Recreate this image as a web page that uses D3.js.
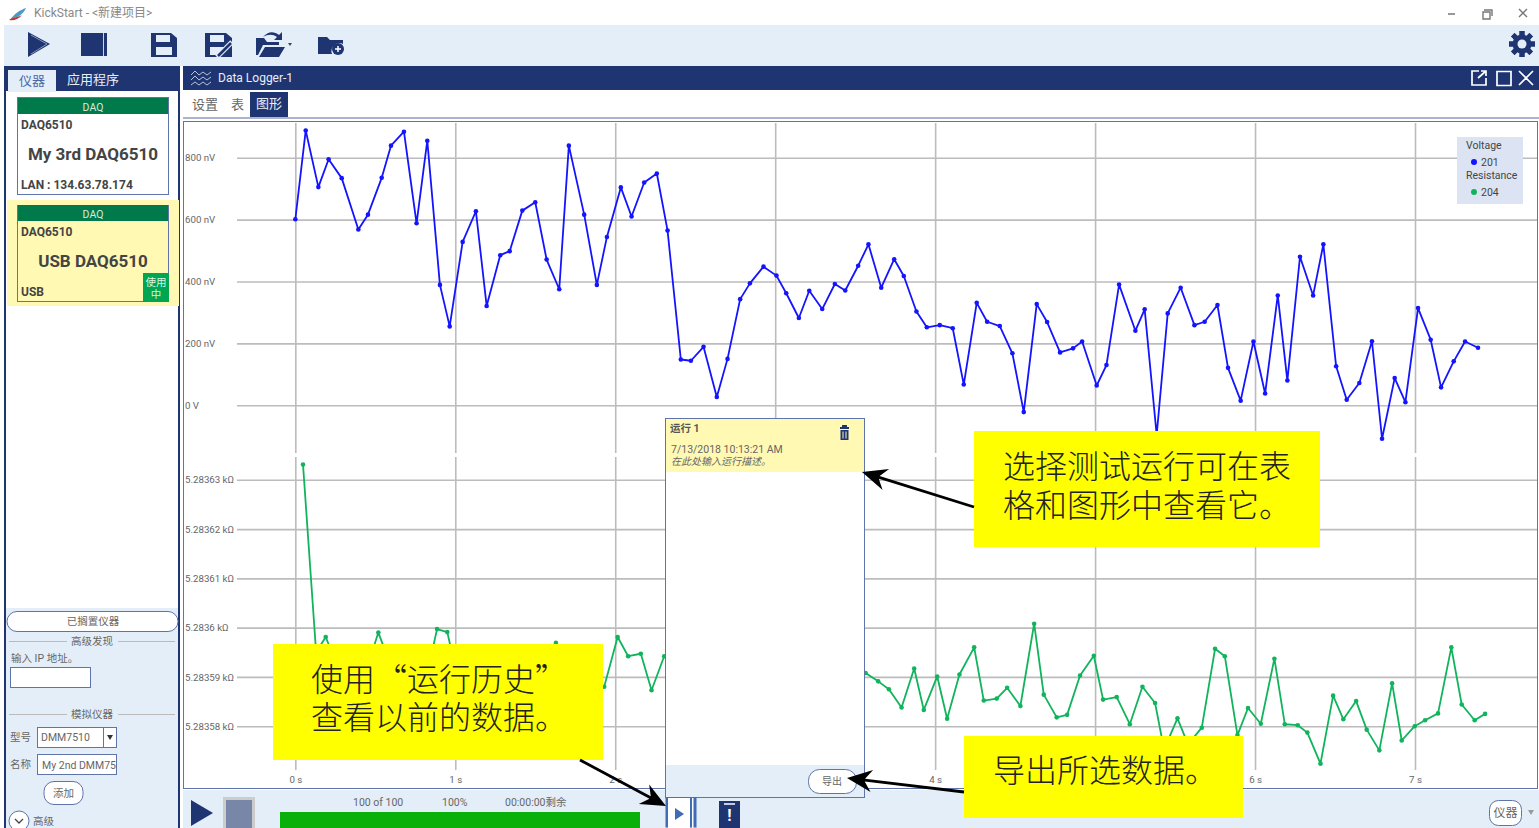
<!DOCTYPE html>
<html lang="zh">
<head>
<meta charset="UTF-8">
<title>KickStart - Data Logger</title>
<script src="https://d3js.org/d3.v7.min.js"></script>
<style>
  html, body { margin: 0; padding: 0; background: #fff; overflow: hidden; }
  svg { display: block; font-family: Roboto, "Noto Sans CJK SC", sans-serif; }
  .axis path.domain { display: none; }
  .axis line { stroke: #bcbcbc; stroke-width: 1.6; }
  .axis text { fill: #666; font-size: 9.7px; font-family: Roboto, sans-serif; }
</style>
</head>
<body>
<svg id="app" width="1539" height="828"></svg>
<script>
// values (seconds, nV, kOhm)
var timeTicks = [0, 1, 2, 3, 4, 5, 6, 7];
var timeLabels = [0, 1, 2, 4, 6, 7]; // 3 s and 5 s are covered by the panel and callout
var voltageTicks = [0, 200, 400, 600, 800];
var resistanceTicks = [5.28358, 5.28359, 5.2836, 5.28361, 5.28362, 5.28363];

var voltageTimes = [0, 0.065, 0.144, 0.208, 0.29, 0.394, 0.454, 0.54, 0.598, 0.679, 0.758, 0.825, 0.904, 0.965,
  1.046, 1.129, 1.196, 1.281, 1.34, 1.419, 1.5, 1.571, 1.65, 1.71, 1.806, 1.885, 1.948,
  2.035, 2.102, 2.181, 2.26, 2.327, 2.41, 2.473, 2.552, 2.635, 2.702, 2.781, 2.842, 2.927,
  3.008, 3.069, 3.148, 3.213, 3.294, 3.373, 3.438, 3.519, 3.583, 3.663, 3.744, 3.804, 3.883, 3.948,
  4.029, 4.11, 4.179, 4.26, 4.325, 4.404, 4.483, 4.554, 4.635, 4.7, 4.781, 4.862, 4.919,
  5.01, 5.071, 5.15, 5.252, 5.31, 5.385, 5.454, 5.535, 5.621, 5.685, 5.765, 5.831, 5.91, 5.99,
  6.063, 6.142, 6.202, 6.281, 6.363, 6.427, 6.507, 6.573, 6.652, 6.731, 6.794, 6.873, 6.94,
  7.019, 7.098, 7.163, 7.242, 7.313, 7.394];
var voltageValues = [601, 888, 705, 795, 734, 568, 616, 735, 839, 884, 588, 855, 389, 255,
  528, 627, 321, 485, 498, 629, 656, 471, 375, 839, 616, 389, 544,
  704, 610, 720, 749, 565, 148, 144, 189, 27, 150, 343, 394, 448,
  419, 362, 282, 370, 311, 392, 371, 451, 520, 380, 472, 418, 303, 252,
  259, 249, 67, 331, 270, 256, 168, -22, 327, 269, 171, 184, 206,
  64, 130, 390, 241, 310, -96, 297, 380, 259, 270, 324, 121, 15, 206,
  38, 355, 80, 480, 355, 520, 126, 18, 72, 207, -108, 88, 10,
  314, 212, 58, 142, 206, 186];

var resistanceTimes = [0.048, 0.13, 0.19, 0.265, 0.34, 0.44, 0.519, 0.6, 0.68, 0.75, 0.82, 0.886, 0.95,
  1.02, 1.1, 1.3, 1.5, 1.629, 1.72, 1.85, 1.931, 2.015, 2.081, 2.16, 2.227, 2.306,
  3.565, 3.644, 3.711, 3.79, 3.869, 3.929, 4.013, 4.075, 4.152, 4.244, 4.304, 4.385, 4.45, 4.533,
  4.619, 4.679, 4.76, 4.825, 4.906, 4.992, 5.05, 5.135, 5.217, 5.296, 5.375, 5.431, 5.515, 5.581,
  5.667, 5.75, 5.811, 5.89, 5.956, 6.036, 6.121, 6.186, 6.267, 6.327, 6.409, 6.488, 6.552, 6.632,
  6.698, 6.777, 6.857, 6.917, 6.998, 7.063, 7.144, 7.227, 7.292, 7.373, 7.438];
var resistanceValues = [5.2836331, 5.283595, 5.2835981, 5.283592, 5.283589, 5.283591, 5.283599, 5.283592, 5.283588, 5.28359, 5.28359, 5.2835997, 5.2835991,
  5.283589, 5.28359, 5.283588, 5.283591, 5.2835969, 5.283589, 5.283586, 5.283588, 5.2835981, 5.2835942, 5.2835947, 5.2835873, 5.2835942,
  5.2835908, 5.2835891, 5.2835875, 5.2835838, 5.2835917, 5.2835833, 5.2835901, 5.2835815, 5.2835905, 5.283596, 5.2835852, 5.2835856, 5.2835878, 5.2835841,
  5.2836008, 5.2835864, 5.2835818, 5.2835823, 5.2835903, 5.2835943, 5.2835854, 5.2835859, 5.2835804, 5.283588, 5.2835847, 5.2835753, 5.2835816, 5.2835763,
  5.2835797, 5.2835957, 5.2835942, 5.2835782, 5.2835837, 5.2835805, 5.2835937, 5.2835804, 5.2835802, 5.2835787, 5.2835724, 5.2835862, 5.2835814, 5.2835851,
  5.2835793, 5.2835751, 5.2835887, 5.2835771, 5.28358, 5.2835812, 5.2835826, 5.283596, 5.2835844, 5.2835812, 5.2835825];

var navy = "#1f3572", pale = "#e4eef8", edge = "#5f74a8", cream = "#fff9b4", grey = "#666";
var blue = "#1414ff", green = "#10b45c";

var svg = d3.select("#app");

function rect(x, y, w, h, fill, stroke, rx) {
  return svg.append("rect").attr("x", x).attr("y", y).attr("width", w).attr("height", h)
    .attr("fill", fill).attr("stroke", stroke || "none").attr("rx", rx || 0);
}

function label(x, y, s, size, color, anchor, weight) {
  return svg.append("text").attr("x", x).attr("y", y).attr("dy", ".35em")
    .attr("font-size", size).attr("fill", color || grey)
    .attr("text-anchor", anchor || "start").attr("font-weight", weight || 400).text(s);
}

function icon(d, fill) {
  return svg.append("path").attr("d", d).attr("fill", fill || navy);
}

// window chrome
rect(0, 0, 1539, 828, "#fff");
icon("M10 20 C14 14 20 10 26 8 C24 13 19 17 14 18 Z", "#4a9ac8");
icon("M9 20 C13 17 19 17 22 15 C19 19 14 21 9 20 Z", "#c0392b");
label(34, 13, "KickStart - <新建项目>", 12, "#888");
svg.append("path").attr("d", "M1448 14 H1455 M1484 10 H1492 V16 M1483 12 H1490 V19 H1483 Z M1519 9 L1527 17 M1527 9 L1519 17")
  .attr("stroke", "#777").attr("stroke-width", 1.4).attr("fill", "none");

// top toolbar
rect(4, 25, 1535, 41, pale);
icon("M28 32 L50 44 L28 57 Z");
svg.append("path").attr("d", "M31 35 L47 44 L31 54").attr("fill", "none").attr("stroke", "#9fb0d0").attr("stroke-width", 0.8);
icon("M81 33 H107 V56 H81 Z");
svg.append("path").attr("d", "M103.5 33 V56").attr("stroke", "#c8d4e8").attr("stroke-width", 1);
icon("M151 33 H171 L177 38 V57 H151 Z M156 35 V42 H170 V35 Z M156 47 V55 H172 V47 Z");
icon("M205 33 H226 L232 38 V57 H205 Z M210 35 V42 H224 V35 Z M210 47 V55 H217 L225 47 Z");
svg.append("path").attr("d", "M217 57 L232 42").attr("stroke", pale).attr("stroke-width", 5);
svg.append("path").attr("d", "M218 56 L231 43").attr("stroke", navy).attr("stroke-width", 2.6);
icon("M256 38 H264 L267 42 H279 V45 H263 L258 55 H256 Z M265 47 H285 L279 57 H259 Z M263 37 C268 31 274 31 279 35 L282 32 V40 H274 L277 37 C273 34 268 34 263 37 Z");
icon("M288 43 H292 L290 46 Z", "#444");
icon("M318 37 H327 L330 40 H343 V44 A8 8 0 0 0 332 54 H318 Z");
svg.append("circle").attr("cx", 338).attr("cy", 49).attr("r", 6).attr("fill", navy);
svg.append("path").attr("d", "M335 49 H341 M338 46 V52").attr("stroke", "#fff").attr("stroke-width", 1.5);

// settings gear
svg.append("g").attr("transform", "translate(1522,44)").selectAll("rect").data(d3.range(8)).enter().append("rect")
  .attr("x", -2.5).attr("y", -13).attr("width", 5).attr("height", 26).attr("fill", navy)
  .attr("transform", function (d) { return "rotate(" + d * 45 + ")"; });
svg.append("circle").attr("cx", 1522).attr("cy", 44).attr("r", 7.5).attr("fill", "none").attr("stroke", navy).attr("stroke-width", 4);
svg.append("circle").attr("cx", 1522).attr("cy", 44).attr("r", 4.5).attr("fill", pale);

// left panel
rect(4, 66, 176, 762, navy);
rect(6, 91, 172, 737, "#fff");
rect(6, 608, 172, 220, pale);
rect(8, 70, 48, 22, pale);
label(32, 80, "仪器", 13, "#4a6aa8", "middle");
label(67, 79.5, "应用程序", 13, "#e8eef8");

rect(17.5, 97.5, 151, 97, "#fff", edge);
rect(18, 98, 150, 16, "#007a4a");
label(93, 107, "DAQ", 10.5, "#d8eadf", "middle");
label(21, 125, "DAQ6510", 12, "#444", "start", 700);
label(93, 154, "My 3rd DAQ6510", 17, "#444", "middle", 700);
label(21, 185, "LAN : 134.63.78.174", 12, "#444", "start", 700);

rect(7, 200, 172, 106, cream);
rect(17.5, 205.5, 151, 96, cream, edge);
rect(18, 205, 150, 16, "#007a4a");
label(93, 214, "DAQ", 10.5, "#d8eadf", "middle");
label(21, 232, "DAQ6510", 12, "#444", "start", 700);
label(93, 261, "USB DAQ6510", 17, "#444", "middle", 700);
label(21, 292, "USB", 12, "#444", "start", 700);
rect(143, 273, 26, 29, "#00a651");
label(156, 282, "使用", 10.5, "#d8f5e0", "middle");
label(156, 294, "中", 10.5, "#d8f5e0", "middle");

rect(7, 611.5, 171, 20, "#fff", edge, 10);
label(93, 621.5, "已搁置仪器", 10.5, grey, "middle");
svg.append("path").attr("d", "M9 641.5 H67 M118 641.5 H175 M9 714.5 H67 M118 714.5 H175").attr("stroke", "#bbb");
label(92, 641, "高级发现", 10.5, grey, "middle");
label(11, 658, "输入 IP 地址。", 10.5, grey);
rect(10.5, 667.5, 80, 20, "#fff", edge);
label(92, 714, "模拟仪器", 10.5, grey, "middle");
label(10, 737, "型号", 10.5, grey);
rect(37.5, 727.5, 79, 20, "#fff", edge);
svg.append("path").attr("d", "M103.5 727 V747").attr("stroke", edge);
icon("M107 735 H113 L110 740 Z", "#333");
label(41, 737, "DMM7510", 10.5, grey);
label(10, 764, "名称", 10.5, grey);
rect(37.5, 754.5, 79, 20, "#fff", edge);
label(42, 765, "My 2nd DMM75", 10.5, grey).attr("textLength", 74).attr("lengthAdjust", "spacing");
rect(44, 781.5, 39, 23, "#fff", edge, 10);
label(63.5, 793, "添加", 10.5, grey, "middle");
svg.append("circle").attr("cx", 19).attr("cy", 821).attr("r", 10).attr("fill", "#fff").attr("stroke", edge);
svg.append("path").attr("d", "M15 819 L19 823 L23 819").attr("fill", "none").attr("stroke", "#444").attr("stroke-width", 1.3);
label(33, 821.5, "高级", 10.5, grey);

// data logger header and tabs
rect(183, 66, 1356, 24, navy);
svg.append("path").attr("d", "M191 75 l4 -4 l4 4 l4 -3 l4 3 l4 -3 M191 80 l4 -4 l4 4 l4 -3 l4 3 l4 -3 M191 85 l4 -3 l4 3 l4 -3 l4 3 l4 -3")
  .attr("fill", "none").attr("stroke", "#c8d2e8").attr("stroke-width", 0.9);
label(218, 78, "Data Logger-1", 12, "#e8eef8");
svg.append("path").attr("d", "M1479 71 H1472 V85 H1486 V78 M1478 78 L1486 71 M1481 71 H1486 V76 M1497 71.5 H1511 V85.5 H1497 Z M1519 71 L1533 85 M1533 71 L1519 85")
  .attr("fill", "none").attr("stroke", "#fff").attr("stroke-width", 1.7);
label(192, 104, "设置", 13, grey);
label(231, 104, "表", 13, grey);
rect(250, 92, 38, 25, navy);
label(269, 103.5, "图形", 13, "#e8eef8", "middle");
rect(183, 117, 1356, 2, "#aab4d0");

// plot frame
rect(183.5, 121.5, 1354, 667, "#fff", edge);

var x = d3.scaleLinear().domain([0, 7]).range([295.33, 1415]);
var yVolt = d3.scaleLinear().domain([0, 800]).range([405.3, 157.7]);
var yOhm = d3.scaleLinear().domain([5.28358, 5.28363]).range([726.2, 479.8]);

function voltLabel(d) { return d === 0 ? "0 V" : d + " nV"; }
function ohmLabel(d) { return d + " k\u03a9"; }

// horizontal grid, tick labels sit at the far left of the plot
function drawY(scale, ticks, fmt) {
  var g = svg.append("g").attr("class", "axis").attr("transform", "translate(237,0)")
    .call(d3.axisLeft(scale).tickValues(ticks).tickFormat(fmt).tickSize(-1300));
  g.selectAll("text").attr("x", -52).attr("text-anchor", "start");
}
drawY(yVolt, voltageTicks, voltLabel);
drawY(yOhm, resistanceTicks, ohmLabel);

// vertical grid, upper and lower plot have a small gap
svg.append("g").attr("class", "axis").attr("transform", "translate(0,453)")
  .call(d3.axisTop(x).tickValues(timeTicks).tickFormat("").tickSize(330));
svg.append("g").attr("class", "axis").attr("transform", "translate(0,770)")
  .call(d3.axisTop(x).tickValues(timeTicks).tickFormat("").tickSize(313));
var timeAxis = svg.append("g").attr("class", "axis").attr("transform", "translate(0,770)")
  .call(d3.axisBottom(x).tickValues(timeLabels).tickFormat(function (d) { return d + " s"; }).tickSize(0));
timeAxis.selectAll("text").attr("y", 6);

function drawSeries(times, values, scale, color) {
  var pts = times.map(function (t, i) { return [t, values[i]]; });
  var line = d3.line().x(function (d) { return x(d[0]); }).y(function (d) { return scale(d[1]); });
  svg.append("path").datum(pts).attr("d", line).attr("fill", "none")
    .attr("stroke", color).attr("stroke-width", 1.8).attr("stroke-linejoin", "round");
  svg.append("g").selectAll("circle").data(pts).enter().append("circle")
    .attr("cx", function (d) { return x(d[0]); })
    .attr("cy", function (d) { return scale(d[1]); })
    .attr("r", 2.3).attr("fill", color);
}
drawSeries(voltageTimes, voltageValues, yVolt, blue);
drawSeries(resistanceTimes, resistanceValues, yOhm, green);

// legend
rect(1457, 137, 66, 67, "#dce4f4");
label(1466, 145, "Voltage", 10.5, "#444");
svg.append("circle").attr("cx", 1474).attr("cy", 162).attr("r", 3).attr("fill", blue);
label(1481, 162, "201", 10.5, "#444");
label(1466, 175, "Resistance", 10.5, "#444");
svg.append("circle").attr("cx", 1474).attr("cy", 192).attr("r", 3).attr("fill", green);
label(1481, 192, "204", 10.5, "#444");

// bottom status strip
rect(183, 790, 1356, 38, pale);
icon("M191 800 L213 813 L191 826 Z");
rect(223, 797, 32, 31, "#ccc");
rect(226, 800, 26, 28, "#7886a8");
label(353, 802, "100 of 100", 10.5, grey);
label(442, 802, "100%", 10.5, grey);
label(505, 802, "00:00:00剩余", 10.5, grey);
rect(280, 812, 360, 16, "#0ab00a");
rect(1489.5, 800.5, 32, 25, "#fff", edge, 9);
label(1505.5, 813, "仪器", 12, grey, "middle");
icon("M1528 810 H1534 L1531 815 Z", "#999");

// run history panel
rect(665.5, 418.5, 199, 379, "#fff", edge);
rect(666, 419, 198, 53, cream);
rect(666, 765, 198, 32, pale);
label(670, 428, "运行 1", 10.5, "#555", "start", 700);
icon("M840 427 H849 V429 H840 Z M842 425 H847 V427 H842 Z M840.5 430 H848.5 V440 H840.5 Z");
svg.append("path").attr("d", "M843 431.5 V438.5 M846 431.5 V438.5").attr("stroke", cream).attr("stroke-width", 1);
label(671, 449, "7/13/2018 10:13:21 AM", 10.5, "#666");
label(671, 461, "在此处输入运行描述。", 10, "#666").attr("font-style", "italic");
rect(808.5, 769.5, 48, 24, "#fff", edge, 11);
label(832, 781, "导出", 10, grey, "middle");
rect(665.5, 797.5, 31, 30, "#3f6cb5");
rect(668, 798, 22, 30, "#fff");
rect(692, 798, 1.5, 30, "#fff");
icon("M675 808 L684 814 L675 820 Z", "#3f6cb5");
rect(719, 801, 21, 27, navy);
svg.append("path").attr("d", "M724 804 H735").attr("stroke", "#fff").attr("stroke-width", 1.5);
label(729.5, 815, "!", 16, "#fff", "middle", 700);

// yellow callouts, CJK font first so the quotes stay full width
function callout(cx, cy, w, h, lines, tx, lineY) {
  rect(cx, cy, w, h, "#ffff00");
  lines.forEach(function (s, i) {
    label(tx, lineY[i], s, 32, "#222").attr("font-weight", 300)
      .attr("font-family", '"Noto Sans CJK SC", sans-serif');
  });
}
callout(974, 431, 346, 116, ["选择测试运行可在表", "格和图形中查看它。"], 1003, [467, 506]);
callout(273, 644, 330, 116, ["使用“运行历史”", "查看以前的数据。"], 311, [680, 718]);
callout(964, 736, 279, 82, ["导出所选数据。"], 993, [771]);

// black pointer arrows
function arrow(x1, y1, x2, y2) {
  var deg = Math.atan2(y2 - y1, x2 - x1) * 180 / Math.PI;
  var len = Math.hypot(x2 - x1, y2 - y1);
  svg.append("path").attr("transform", "translate(" + x1 + "," + y1 + ") rotate(" + deg + ")")
    .attr("d", "M0 -1.4 L" + (len - 18) + " -1.4 L" + (len - 25) + " -11 L" + len + " 0 L" + (len - 25) + " 11 L" + (len - 18) + " 1.4 L0 1.4 Z")
    .attr("fill", "#000");
}
arrow(974, 507, 862, 472);
arrow(580, 760, 666, 806);
arrow(964, 792, 847, 778);
</script>
</body>
</html>
